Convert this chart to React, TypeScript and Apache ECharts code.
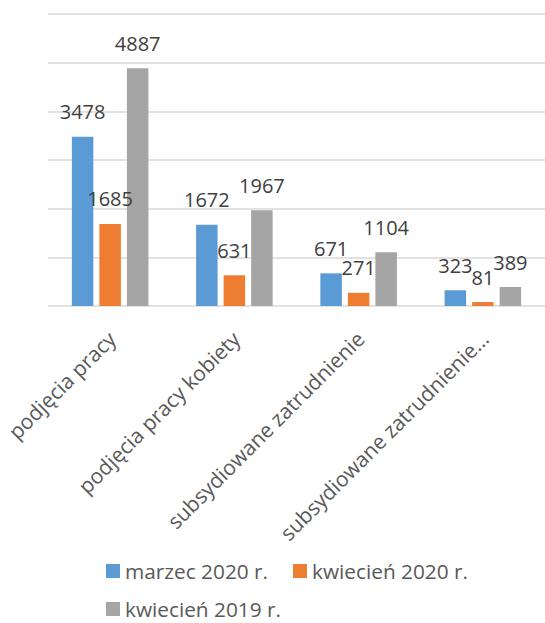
import React, { useEffect, useRef } from "react";
import * as echarts from "echarts";

const categories = [
  "podjęcia pracy",
  "podjęcia pracy kobiety",
  "subsydiowane zatrudnienie",
  "subsydiowane zatrudnienie…",
];
const seriesNames = ["marzec 2020 r.", "kwiecień 2020 r.", "kwiecień 2019 r."];
const marzec2020 = [3478, 1672, 671, 323];
const kwiecien2020 = [1685, 631, 271, 81];
const kwiecien2019 = [4887, 1967, 1104, 389];
const colors = ["#5B9BD5", "#ED7D31", "#A5A5A5"];
const yMax = 6000;
const yInterval = 1000;

const FONT = "'Open Sans', sans-serif";

export default function App() {
  const ref = useRef<HTMLDivElement>(null);
  useEffect(() => {
    if (!ref.current) return;
    const chart = echarts.init(ref.current, null, { renderer: "svg" });
    const label = {
      show: true,
      position: "top",
      distance: 13,
      color: "#404040",
      fontSize: 20,
      lineHeight: 24,
      fontFamily: FONT,
    };
    const values = [marzec2020, kwiecien2020, kwiecien2019];
    const legendText = { color: "#595959", fontSize: 20.8, lineHeight: 22, fontFamily: FONT };
    chart.setOption({
      animation: false,
      grid: [
        { left: 48, width: 501, top: 14, bottom: 317, containLabel: false },
        { left: 48, right: 0, top: 14, bottom: 317, containLabel: false },
      ],
      xAxis: [
        {
          type: "category",
          gridIndex: 0,
          data: categories,
          axisLine: { show: false },
          axisTick: { show: false },
          axisLabel: {
            rotate: 45,
            interval: 0,
            margin: 16,
            verticalAlign: "top",
            padding: [0, 8, 0, 0],
            color: "#595959",
            fontSize: 21,
            fontFamily: FONT,
          },
        },
        {
          type: "value",
          gridIndex: 1,
          show: false,
        },
      ],
      yAxis: [
        {
          type: "value",
          gridIndex: 0,
          min: 0,
          max: yMax,
          interval: yInterval,
          axisLabel: { show: false },
          axisLine: { show: false },
          axisTick: { show: false },
          splitLine: { show: false },
        },
        {
          type: "value",
          gridIndex: 1,
          min: 0,
          max: yMax,
          interval: yInterval,
          axisLabel: { show: false },
          axisLine: { show: false },
          axisTick: { show: false },
          splitLine: { show: true, lineStyle: { color: "#d9d9d9", width: 1.5 } },
        },
      ],
      legend: [
        {
          data: [seriesNames[0], seriesNames[1]],
          left: 106,
          top: 560,
          padding: 0,
          itemWidth: 14,
          itemHeight: 14,
          itemGap: 25,
          icon: "rect",
          textStyle: legendText,
        },
        {
          data: [seriesNames[2]],
          left: 106,
          top: 598,
          padding: 0,
          itemWidth: 14,
          itemHeight: 14,
          icon: "rect",
          textStyle: legendText,
        },
      ],
      series: seriesNames.map((name, i) => ({
        name,
        type: "bar",
        xAxisIndex: 0,
        yAxisIndex: 0,
        data: values[i],
        barWidth: 21.5,
        barGap: "28%",
        itemStyle: { color: colors[i] },
        label,
      })),
    });
    return () => chart.dispose();
  }, []);
  return (
    <div
      ref={ref}
      style={{ position: "absolute", left: 0, top: 0, width: 545, height: 623 }}
    />
  );
}
